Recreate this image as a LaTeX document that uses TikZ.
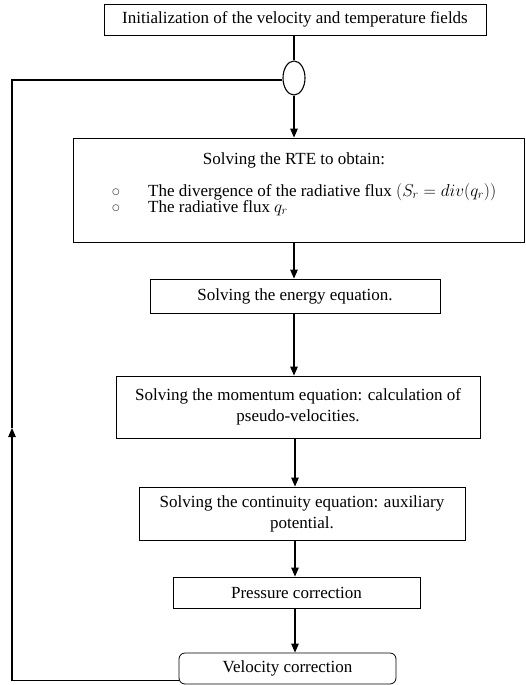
\documentclass[tikz,border=0pt]{standalone}
\usepackage{fontspec}
\setmainfont{Liberation Serif}
\usetikzlibrary{arrows.meta,shapes.geometric}
\begin{document}
\begin{tikzpicture}[x=1pt,y=-1pt,
  font=\fontsize{17}{21}\selectfont,
  box/.style={draw, line width=0.8pt, inner sep=0pt, align=center},
  arr/.style={line width=1.1pt, -{Triangle[length=9pt,width=7.5pt]}},
  wire/.style={line width=1.1pt},
  plain/.style={inner sep=0pt}]
\useasboundingbox (0,0) rectangle (526,685);

\node[box, minimum width=382pt, minimum height=31pt] (init) at (295,19.5)
  {Initialization of the velocity and temperature fields};
\node[draw, ellipse, line width=1.1pt, minimum width=22pt, minimum height=34pt, inner sep=0pt] (merge) at (294,78) {};

\node[box, minimum width=451pt, minimum height=104pt] (rte) at (298.5,190) {};
\node[plain] (rtet) at (294,160) {Solving the RTE to obtain:};
\node[plain, text=black!70] (b1) at (116,193) {$\circ$};
\node[plain, text=black!70] (b2) at (116,209) {$\circ$};
\node[plain, anchor=west] (l1) at (148,192) {The divergence of the radiative flux $(S_r = div(q_r))$};
\node[plain, anchor=west] (l2) at (148,208) {The radiative flux $q_r$};

\node[box, minimum width=290pt, minimum height=34pt] (energy) at (295,296)
  {Solving the energy equation.};
\node[box, minimum width=364pt, minimum height=62pt] (mom) at (298,407)
  {Solving the momentum equation: calculation of\\pseudo-velocities.};
\node[box, minimum width=326pt, minimum height=53pt] (cont) at (302,513.5)
  {Solving the continuity equation: auxiliary\\potential.};
\node[box, minimum width=247pt, minimum height=31pt] (press) at (296.5,592.5)
  {Pressure correction};
\node[box, rounded corners=6pt, minimum width=217pt, minimum height=31pt] (vel) at (287.5,668.5)
  {Velocity correction};

\draw[line width=2.8pt] (init.south -| merge) -- (merge.north);
\draw[arr] (merge.south) -- (merge.south |- rte.north);
\draw[arr] (rte.south -| merge) -- (energy.north -| merge);
\draw[arr] (energy.south -| merge) -- (mom.north -| merge);
\draw[arr] ([xshift=1pt]mom.south -| merge) -- ([xshift=1pt]cont.north -| merge);
\draw[arr] ([xshift=1pt]cont.south -| merge) -- ([xshift=1pt]press.north -| merge);
\draw[arr] ([xshift=1pt]press.south -| merge) -- ([xshift=1pt]vel.north -| merge);

\coordinate (fbmid) at (12,428);
\draw[arr] ([yshift=-12pt]vel.west) -| (fbmid);
\draw[wire] (fbmid) |- ([yshift=-2pt]merge.west);
\end{tikzpicture}
\end{document}
